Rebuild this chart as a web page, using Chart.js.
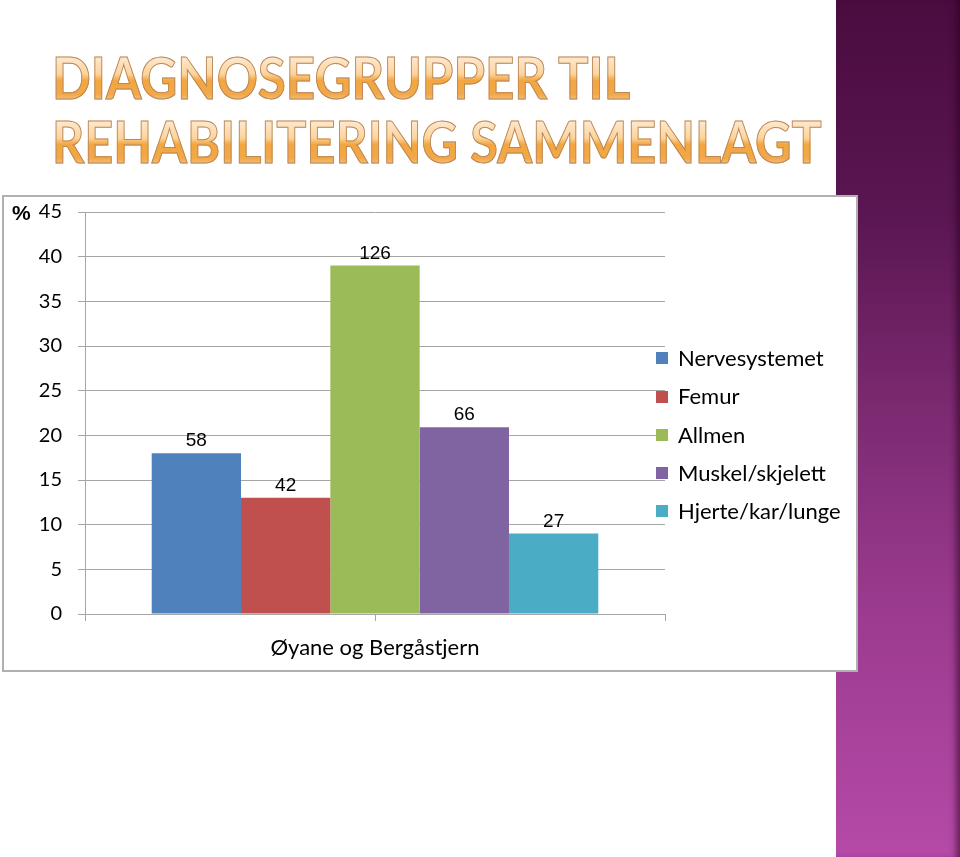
<!DOCTYPE html>
<html lang="no">
<head>
    <meta charset="UTF-8">
    <title>Diagnosegrupper til rehabilitering sammenlagt</title>
    <script src="https://cdn.jsdelivr.net/npm/chart.js"></script>
    <style>
        body { margin: 0; width: 960px; height: 857px; position: relative; overflow: hidden; background: #fff; font-family: Lato, sans-serif; }
        #strip {
            position: absolute; left: 836px; top: 0; width: 124px; height: 857px;
            background: linear-gradient(#4a0c3f 0%, #5a1652 25%, #7c2a71 48%, #9a3a8e 70%, #b54aa7 100%);
            box-shadow: inset -7px 0 6px -3px rgba(40, 0, 30, 0.55);
        }
        .title {
            position: absolute; left: 52px; display: inline-block;
            font-family: Lato, sans-serif; font-weight: 700; font-size: 58px; line-height: 1;
            white-space: nowrap; transform-origin: 0 0;
            color: transparent;
            background: linear-gradient(#fde9d0 0%, #fde7cc 17%, #fcd49c 45%, #f3a640 56%, #f2a849 80%, #f8c88a 92%, #f8c88a 100%);
            -webkit-background-clip: text; background-clip: text;
            -webkit-text-stroke: 1px #b8875a;
        }
        #box {
            position: absolute; left: 2px; top: 195px; width: 852px; height: 473px;
            border: 2px solid #b0b0b0; background: #fff;
        }
        #box canvas { position: absolute; left: 0; top: 0; }
        #legend { position: absolute; left: 656px; top: 339px; font-size: 22px; color: #000; }
        #legend .item { height: 38.25px; line-height: 38.25px; white-space: nowrap; }
        #legend .mark { display: inline-block; width: 12px; height: 12px; margin-right: 10px; vertical-align: middle; position: relative; top: -2px; }
    </style>
</head>
<body>
    <div id="strip"></div>
    <div class="title" id="title1" style="top:48px">DIAGNOSEGRUPPER TIL</div>
    <div class="title" id="title2" style="top:112px">REHABILITERING SAMMENLAGT</div>

    <div id="box"><canvas id="barChart" width="852" height="473"></canvas></div>
    <div id="legend"></div>

    <script>
        // chart values
        const categories = ['Øyane og Bergåstjern'];
        const groups = ['Nervesystemet', 'Femur', 'Allmen', 'Muskel/skjelett', 'Hjerte/kar/lunge'];
        const percents = [18, 13, 39, 20.9, 9];
        const counts = [58, 42, 126, 66, 27];
        const colors = ['#4F81BD', '#C0504D', '#9BBB59', '#8064A2', '#4BACC6'];
        const yMax = 45;
        const yStep = 5;
        const yUnit = '%';

        // stretch the title lines to their widths
        function fitTitle(id, target) {
            const el = document.getElementById(id);
            const w = el.offsetWidth;
            el.style.transform = `scaleX(${target / w})`;
        }
        fitTitle('title1', 578);
        fitTitle('title2', 770);

        // legend from the same arrays
        const legend = document.getElementById('legend');
        groups.forEach((name, i) => {
            const item = document.createElement('div');
            item.className = 'item';
            item.innerHTML = `<span class="mark" style="background:${colors[i]}"></span>${name}`;
            legend.appendChild(item);
        });

        const gridColor = '#a6a6a6';

        const valueLabels = {
            id: 'valueLabels',
            afterDatasetsDraw(chart) {
                const ctx = chart.ctx;
                ctx.save();
                ctx.font = '19px "Liberation Sans", Arial, sans-serif';
                ctx.fillStyle = '#000';
                ctx.textAlign = 'center';
                ctx.textBaseline = 'alphabetic';
                chart.data.datasets.forEach((ds, i) => {
                    const bar = chart.getDatasetMeta(i).data[0];
                    ctx.fillText(String(counts[i]), bar.x, bar.y - 7);
                });
                ctx.restore();
            }
        };

        // tick mark under the category centre, and the unit sign by the top tick
        const extras = {
            id: 'extras',
            afterDraw(chart) {
                const ctx = chart.ctx;
                const x = chart.scales.x.getPixelForTick(0);
                const y = chart.chartArea.bottom;
                ctx.save();
                ctx.strokeStyle = gridColor;
                ctx.lineWidth = 1;
                ctx.beginPath();
                ctx.moveTo(Math.round(x) + 0.5, y);
                ctx.lineTo(Math.round(x) + 0.5, y + 7);
                ctx.stroke();

                const yTop = chart.scales.y.getPixelForValue(yMax);
                ctx.font = 'bold 21px "Liberation Sans", Arial, sans-serif';
                ctx.fillStyle = '#000';
                ctx.textAlign = 'left';
                ctx.textBaseline = 'middle';
                ctx.fillText(yUnit, 8, yTop + 2);
                ctx.restore();
            }
        };

        Chart.defaults.font.family = 'Lato, sans-serif';
        Chart.defaults.color = '#000';

        new Chart(document.getElementById('barChart'), {
            type: 'bar',
            data: {
                labels: categories,
                datasets: groups.map((name, i) => ({
                    label: name,
                    data: [percents[i]],
                    backgroundColor: colors[i],
                    borderWidth: 0,
                    categoryPercentage: 0.77,
                    barPercentage: 1.0
                }))
            },
            options: {
                responsive: false,
                animation: false,
                layout: { padding: { top: 15, right: 191, bottom: 0, left: 0 } },
                plugins: {
                    legend: { display: false },
                    tooltip: { enabled: false }
                },
                scales: {
                    x: {
                        grid: { display: true, drawOnChartArea: false, drawTicks: true, tickLength: 7, offset: true, color: gridColor },
                        border: { color: gridColor },
                        ticks: { font: { size: 22 }, padding: 14, color: '#000' },
                        afterFit(scale) {
                            scale.height = 56;
                            scale.paddingLeft = 0; scale.paddingRight = 0;
                            scale.paddingTop = 0; scale.paddingBottom = 0;
                        }
                    },
                    y: {
                        min: 0,
                        max: yMax,
                        grid: { color: gridColor, tickLength: 7 },
                        border: { color: gridColor },
                        ticks: {
                            stepSize: yStep,
                            font: { size: 20 },
                            padding: 16,
                            color: '#000'
                        },
                        afterFit(scale) {
                            scale.width = 81;
                            scale.paddingTop = 0; scale.paddingBottom = 0;
                            scale.paddingLeft = 0; scale.paddingRight = 0;
                        }
                    }
                }
            },
            plugins: [valueLabels, extras]
        });
    </script>
</body>
</html>
